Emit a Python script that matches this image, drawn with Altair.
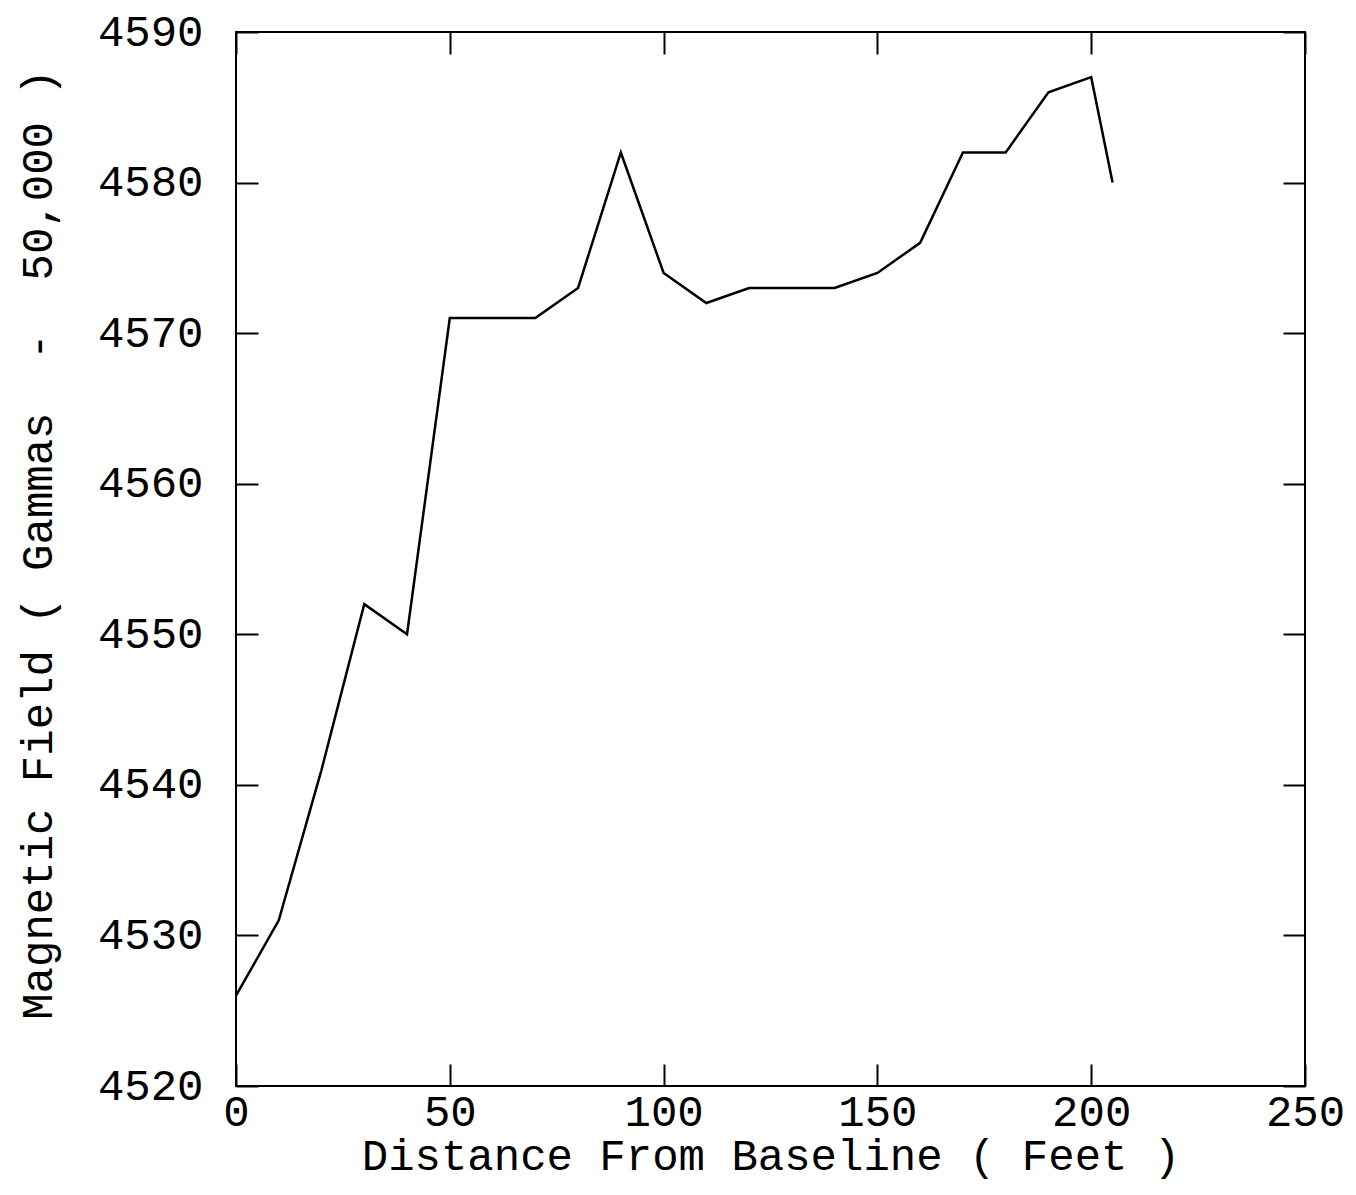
import altair as alt
import pandas as pd

# Magnetometer traverse: total field reading (minus 50,000 gammas) along the line
distance_ft = [0, 10, 20, 30, 40, 50, 60, 70, 80, 90, 100, 110, 120, 130,
               140, 150, 160, 170, 180, 190, 200, 205]
field_gammas = [4526, 4531, 4541, 4552, 4550, 4571, 4571, 4571, 4573, 4582,
                4574, 4572, 4573, 4573, 4573, 4574, 4576, 4582, 4582, 4586,
                4587, 4580]

x_ticks = [0, 50, 100, 150, 200, 250]
y_ticks = [4520, 4530, 4540, 4550, 4560, 4570, 4580, 4590]

df = pd.DataFrame({"distance": distance_ft, "field": field_gammas})

FONT = "Liberation Mono"
SIZE = 44
TICK = 22  # inward tick length
NBSP = "\u00a0"  # keeps the wide gaps around the dash in SVG text

x_title = "Distance From Baseline ( Feet )"
y_title = f"Magnetic Field ( Gammas{NBSP}{NBSP}-{NBSP}{NBSP}50,000 )"

x_scale = alt.Scale(domain=[0, 250], nice=False, zero=False)
y_scale = alt.Scale(domain=[4520, 4590], nice=False, zero=False)

tick_style = dict(
    grid=False, domain=False, tickSize=TICK, offset=-TICK,
    tickColor="black", tickWidth=2,
)
text_style = dict(
    labelFont=FONT, labelFontSize=SIZE, labelColor="black",
    labelFlush=False, labelOverlap=False, labelBound=False,
    titleFont=FONT, titleFontSize=SIZE, titleFontWeight="normal",
    titleColor="black",
)

profile = alt.Chart(df).mark_line(color="black", strokeWidth=2.5).encode(
    x=alt.X("distance:Q", scale=x_scale,
            axis=alt.Axis(orient="bottom", values=x_ticks, labelPadding=4,
                          title=x_title, titlePadding=0,
                          **tick_style, **text_style)),
    y=alt.Y("field:Q", scale=y_scale,
            axis=alt.Axis(orient="left", values=y_ticks, labelPadding=33,
                          format="d", title=y_title, titlePadding=37,
                          titleY=512, **tick_style, **text_style)),
)

# Mirror ticks on the top and right edges of the frame
frame_ticks = alt.Chart(df).mark_line(opacity=0).encode(
    x=alt.X("distance:Q", scale=x_scale,
            axis=alt.Axis(orient="top", values=x_ticks, labels=False,
                          title=None, **tick_style)),
    y=alt.Y("field:Q", scale=y_scale,
            axis=alt.Axis(orient="right", values=y_ticks, labels=False,
                          title=None, **tick_style)),
)

chart = (
    alt.layer(profile, frame_ticks)
    .resolve_scale(x="independent", y="independent")
    .properties(
        width=1069, height=1054,
        autosize=alt.AutoSizeParams(type="none"),
        padding={"left": 236, "top": 32, "right": 51, "bottom": 109},
        background="white",
    )
    .configure_view(stroke="black", strokeWidth=2)
)

chart.save("out.html", embed_options={"renderer": "svg", "actions": False})
